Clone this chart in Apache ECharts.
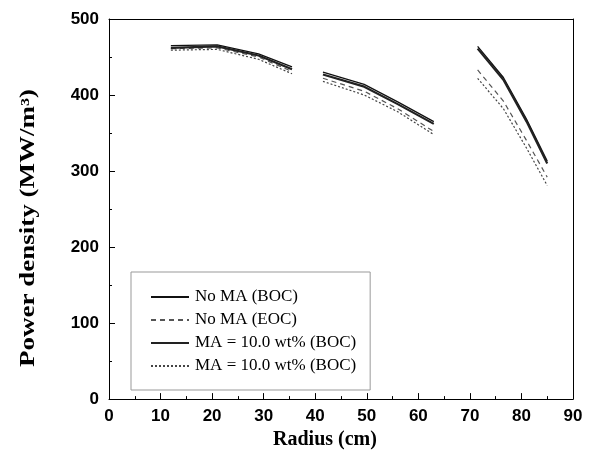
<!DOCTYPE html>
<html>
<head>
<meta charset="utf-8">
<script src="https://cdn.jsdelivr.net/npm/echarts@6/dist/echarts.min.js"></script>
<style>
html,body{margin:0;padding:0;background:#fff;}
#chart{width:593px;height:455px;}
</style>
</head>
<body>
<div id="chart"></div>
<script>
// Radial positions (cm) of the three fuel zones
const zoneRadius = [
  [12, 21, 29, 35.5],
  [41.5, 49.5, 56, 63],
  [71.5, 76.5, 81, 85]
];
// Power density (MW/m^3) per zone
const noMaBoc = [[465, 466, 454, 437], [430, 414, 391, 365], [464, 423, 368, 313]];
const noMaEoc = [[461, 462, 450, 431], [422, 405, 382, 352], [433, 392, 340, 292]];
const maBoc   = [[462, 464, 452, 434], [427, 411, 388, 362], [461, 420, 365, 310]];
const maEoc   = [[459, 460, 447, 428], [418, 400, 378, 348], [422, 382, 330, 281]];

const seriesNames = ['No MA (BOC)', 'No MA (EOC)', 'MA = 10.0 wt% (BOC)', 'MA = 10.0 wt% (BOC) '];
const legendLabels = ['No MA (BOC)', 'No MA (EOC)', 'MA = 10.0 wt% (BOC)', 'MA = 10.0 wt% (BOC)'];
const yTitle = 'Power density (MW/m³)';
const xTitle = 'Radius (cm)';

// Join the zones into one line each, with a break between zones
function joinZones(values) {
  const out = [];
  zoneRadius.forEach((xs, z) => {
    xs.forEach((x, i) => out.push([x, values[z][i]]));
    if (z < zoneRadius.length - 1) out.push([xs[xs.length - 1] + 1, '-']);
  });
  return out;
}

const styles = [
  { color: '#111', width: 1.3, type: 'solid' },
  { color: '#555', width: 1.2, type: [5, 4] },
  { color: '#222', width: 2.2, type: 'solid' },
  { color: '#444', width: 1.2, type: [2, 2] }
];
const dataSets = [noMaBoc, noMaEoc, maBoc, maEoc];

const series = dataSets.map((d, k) => ({
  name: seriesNames[k],
  type: 'line',
  data: joinZones(d),
  showSymbol: false,
  symbol: 'none',
  connectNulls: false,
  animation: false,
  lineStyle: styles[k],
  itemStyle: { color: styles[k].color }
}));

const tickFont = { fontFamily: 'Liberation Sans', fontWeight: 'bold', fontSize: 17, color: '#000' };
const nameFont = { fontFamily: 'Liberation Serif', fontWeight: 'bold', fontSize: 20, color: '#000' };
const axisLine = { show: true, onZero: false, lineStyle: { color: '#000', width: 1 } };

const chart = echarts.init(document.getElementById('chart'), null, { renderer: 'canvas' });
chart.setOption({
  backgroundColor: '#fff',
  animation: false,
  grid: { left: 109, right: 20, top: 19, bottom: 52, containLabel: false },
  legend: {
    orient: 'vertical',
    left: 131,
    top: 272,
    padding: [15, 14, 14, 19],
    itemGap: 3,
    itemWidth: 38,
    itemHeight: 20,
    borderColor: '#999',
    borderWidth: 1,
    data: seriesNames,
    itemStyle: { opacity: 0 },
    formatter: (n) => legendLabels[seriesNames.indexOf(n)],
    textStyle: { fontFamily: 'Liberation Serif', fontSize: 17, lineHeight: 20, color: '#000', padding: [0, 0, 0, 1] }
  },
  // Vertical axis title, drawn tall like the rest of the figure
  graphic: [{
    type: 'text',
    x: 29,
    y: 228,
    rotation: Math.PI / 2,
    scaleX: 1.35,
    style: {
      text: yTitle,
      font: 'bold 20px "Liberation Serif"',
      fill: '#000',
      align: 'center',
      verticalAlign: 'middle'
    }
  }],
  xAxis: [
    {
      type: 'value', min: 0, max: 90, interval: 10,
      name: xTitle, nameLocation: 'middle', nameGap: 27,
      nameTextStyle: Object.assign({ padding: [0, 32, 0, 0] }, nameFont),
      axisLine: axisLine,
      axisTick: { inside: true, length: 6, lineStyle: { color: '#000' } },
      minorTick: { show: true, splitNumber: 2, length: 3, lineStyle: { color: '#000' } },
      splitLine: { show: false },
      axisLabel: Object.assign({ margin: 9 }, tickFont)
    },
    {
      type: 'value', min: 0, max: 90, interval: 10, position: 'top',
      axisLine: axisLine,
      axisTick: { show: false },
      axisLabel: { show: false },
      splitLine: { show: false }
    }
  ],
  yAxis: [
    {
      type: 'value', min: 0, max: 500, interval: 100,
      axisLine: axisLine,
      axisTick: { inside: true, length: 6, lineStyle: { color: '#000' } },
      minorTick: { show: true, splitNumber: 2, length: 3, lineStyle: { color: '#000' } },
      splitLine: { show: false },
      axisLabel: Object.assign({ margin: 10 }, tickFont)
    },
    {
      type: 'value', min: 0, max: 500, interval: 100, position: 'right',
      axisLine: axisLine,
      axisTick: { show: false },
      axisLabel: { show: false },
      splitLine: { show: false }
    }
  ],
  series: series
});
</script>
</body>
</html>
